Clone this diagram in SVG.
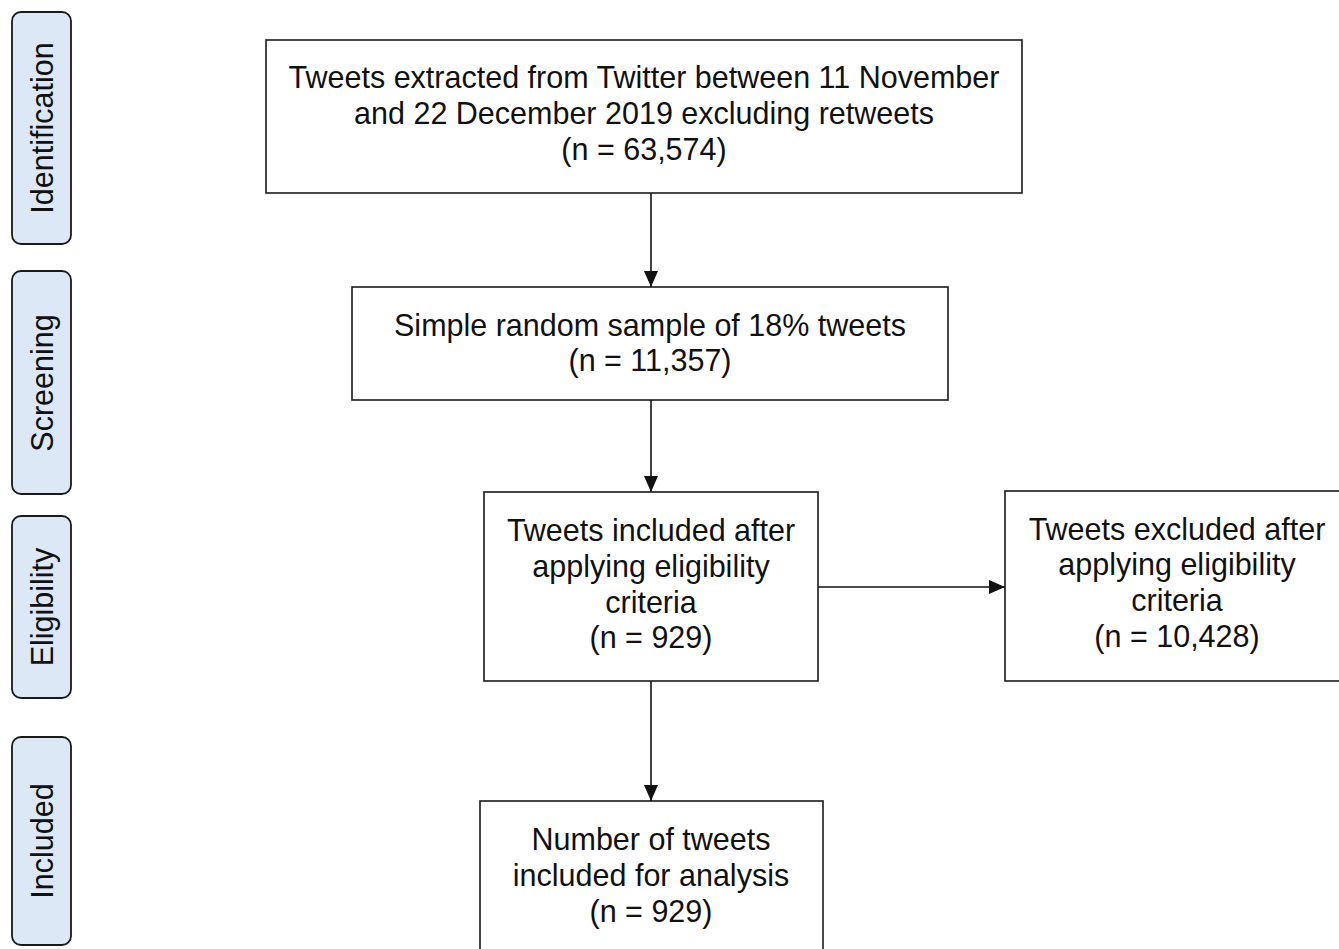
<svg xmlns="http://www.w3.org/2000/svg" width="1339" height="949" viewBox="0 0 1339 949">
<defs>
<style>
.box{fill:#fff;stroke:#1a1a1a;stroke-width:1.6}
.side{fill:#dce8f5;stroke:#1a1a1a;stroke-width:1.8}
.t{font-family:"Liberation Sans",Arial,sans-serif;font-size:30.5px;fill:#111;text-anchor:middle}
.c{stroke:#111;stroke-width:1.6;fill:none;marker-end:url(#ah)}
</style>
<marker id="ah" viewBox="0 0 16 14" refX="16" refY="7" markerWidth="16" markerHeight="14" markerUnits="userSpaceOnUse" orient="auto">
<path d="M0,0 L16,7 L0,14 Z" fill="#111"/>
</marker>
</defs>
<rect width="1339" height="949" fill="#fff"/>
<g id="phase-identification">
<rect class="side" x="12" y="12" width="59" height="232" rx="9"/>
<text class="t" transform="translate(53,128) rotate(-90)">Identification</text>
</g>
<g id="phase-screening">
<rect class="side" x="12" y="271" width="59" height="223" rx="9"/>
<text class="t" transform="translate(53,383) rotate(-90)">Screening</text>
</g>
<g id="phase-eligibility">
<rect class="side" x="12" y="516" width="59" height="182" rx="9"/>
<text class="t" transform="translate(53,607) rotate(-90)">Eligibility</text>
</g>
<g id="phase-included">
<rect class="side" x="12" y="737" width="59" height="208" rx="9"/>
<text class="t" transform="translate(53,841) rotate(-90)">Included</text>
</g>
<g id="n-extracted">
<rect class="box" x="266" y="40" width="756" height="153"/>
<text class="t" x="644" y="88">Tweets extracted from Twitter between 11 November</text>
<text class="t" x="644" y="124">and 22 December 2019 excluding retweets</text>
<text class="t" x="644" y="160">(n = 63,574)</text>
</g>
<g id="n-sample">
<rect class="box" x="352" y="287" width="596" height="113"/>
<text class="t" x="650" y="336">Simple random sample of 18% tweets</text>
<text class="t" x="650" y="371">(n = 11,357)</text>
</g>
<g id="n-included">
<rect class="box" x="484" y="492" width="334" height="189"/>
<text class="t" x="651" y="541">Tweets included after</text>
<text class="t" x="651" y="577">applying eligibility</text>
<text class="t" x="651" y="613">criteria</text>
<text class="t" x="651" y="648">(n = 929)</text>
</g>
<g id="n-excluded">
<rect class="box" x="1005" y="491" width="340" height="190"/>
<text class="t" x="1177" y="540">Tweets excluded after</text>
<text class="t" x="1177" y="575">applying eligibility</text>
<text class="t" x="1177" y="611">criteria</text>
<text class="t" x="1177" y="647">(n = 10,428)</text>
</g>
<g id="n-analysis">
<rect class="box" x="480" y="801" width="343" height="160"/>
<text class="t" x="651" y="850">Number of tweets</text>
<text class="t" x="651" y="886">included for analysis</text>
<text class="t" x="651" y="922">(n = 929)</text>
</g>
<g id="connectors">
<path class="c" d="M651,193 V287"/>
<path class="c" d="M651,400 V492"/>
<path class="c" d="M651,681 V801"/>
<path class="c" d="M818,587 H1005"/>
</g>
</svg>
